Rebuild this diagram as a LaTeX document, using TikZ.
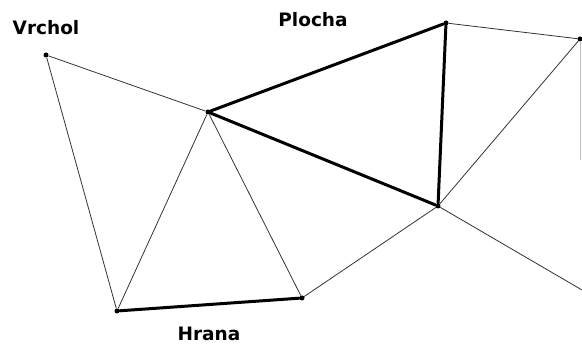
\documentclass[tikz,border=0pt]{standalone}
\usepackage{fontspec}
\setmainfont{DejaVu Sans}
\usepackage{tikz}
\usetikzlibrary{positioning}

\begin{document}
\begin{tikzpicture}[
  x=1pt, y=-1pt,
  font=\bfseries\fontsize{18.5}{21}\selectfont,
  % Node styles
  vertex/.style={circle, fill=black, inner sep=0pt, minimum size=5pt},
  label/.style={rectangle, draw=none, fill=none, inner sep=0pt},
  thinedge/.style={line width=0.8pt, color=black!80},
  thickedge/.style={line width=3pt, color=black, line cap=round}
]
  \useasboundingbox (0,0) rectangle (582,347);

  % ============================================
  % Vertices
  % ============================================
  \node[vertex] (v1) at (46,55) {};
  \node[vertex] (v2) at (208,112) {};
  \node[vertex] (v3) at (446,23) {};
  \node[vertex] (v4) at (580,39) {};
  \node[vertex] (v5) at (438,206) {};
  \node[vertex] (v6) at (117,311) {};
  \node[vertex] (v7) at (302,298) {};

  % free ends leaving the picture
  \coordinate (e1) at (582,290);
  \coordinate (e2) at (580,160);

  % ============================================
  % Labels
  % ============================================
  \node[label] (vrchol) at (46,28) {Vrchol};
  \node[label] (plocha) at (313,20) {Plocha};
  \node[label] (hrana) at (209,334) {Hrana};

  % ============================================
  % Edges
  % ============================================
  \draw[thinedge] (v1) -- (v2);
  \draw[thinedge] (v1) -- (v6);
  \draw[thinedge] (v2) -- (v6);
  \draw[thinedge] (v2) -- (v7);
  \draw[thinedge] (v7) -- (v5);
  \draw[thinedge] (v3) -- (v4);
  \draw[thinedge] (v4) -- (v5);
  \draw[thinedge] (v5) -- (e1);
  \draw[thinedge, color=black!25] (v4) -- (e2);

  % face
  \draw[thickedge] (v2) -- (v3);
  \draw[thickedge] (v3) -- (v5);
  \draw[thickedge] (v5) -- (v2);

  % edge
  \draw[thickedge] (v6) -- (v7);

\end{tikzpicture}
\end{document}
